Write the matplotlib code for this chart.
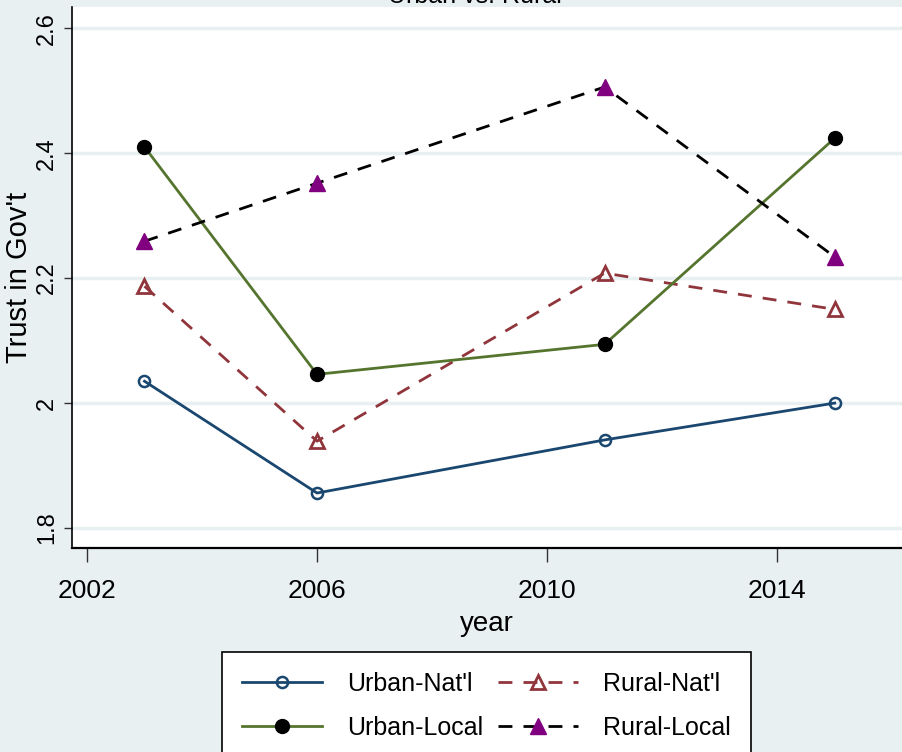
import numpy as np
import matplotlib
matplotlib.use('Agg')
import matplotlib.pyplot as plt

plt.rcParams['font.family'] = ['Liberation Sans', 'DejaVu Sans']

# survey waves and mean trust scores
years        = [2003, 2006, 2011, 2015]
urban_natl   = [2.035, 1.856, 1.941, 2.000]
rural_natl   = [2.187, 1.939, 2.208, 2.150]
urban_local  = [2.410, 2.046, 2.094, 2.424]
rural_local  = [2.259, 2.352, 2.506, 2.234]
xticks       = [2002, 2006, 2010, 2014]
yticks       = [1.8, 2.0, 2.2, 2.4, 2.6]
ytick_labels = ['1.8', '2', '2.2', '2.4', '2.6']

bg = '#e9f0f2'
fig = plt.figure(figsize=(9.02, 7.52), dpi=100, facecolor=bg)
ax = fig.add_axes([72/902, 1 - 548/752, 1 - 72/902, (548 - 7)/752])
ax.set_facecolor('white')

l1, = ax.plot(years, urban_natl, color='#1a476f', lw=2, marker='o', ms=8,
              mfc='none', mec='#1a476f', mew=1.8, label="Urban-Nat'l")
l2, = ax.plot(years, rural_natl, color='#90353b', lw=2, ls=(0, (5, 4)), marker='^', ms=10,
              mfc='none', mec='#90353b', mew=2, label="Rural-Nat'l")
l3, = ax.plot(years, urban_local, color='#55752f', lw=2, marker='o', ms=10,
              mfc='black', mec='black', label='Urban-Local')
l4, = ax.plot(years, rural_local, color='black', lw=2, ls=(0, (5, 4)), marker='^', ms=11,
              mfc='#800080', mec='#800080', label='Rural-Local')

ax.set_xlim(2001.74, 2016.17)
ax.set_ylim(1.768, 2.634)
ax.set_xticks(xticks)
ax.set_xticklabels([str(x) for x in xticks], fontsize=19)
ax.set_yticks(yticks)
ax.set_yticklabels(ytick_labels, fontsize=17, rotation=90, va='center')
ax.yaxis.grid(True, color=bg, lw=2.5)
ax.set_axisbelow(True)
ax.tick_params(axis='x', length=10, width=1, color='#333333', pad=12)
ax.tick_params(axis='y', length=6, width=1, color='#333333', pad=4)
for s in ['top', 'right']:
    ax.spines[s].set_visible(False)
ax.spines['left'].set_linewidth(1.2)
ax.spines['bottom'].set_linewidth(1.6)

ax.set_xlabel('year', fontsize=20, labelpad=6)
ax.set_ylabel("Trust in Gov't", fontsize=21, labelpad=2)

fig.text(475/902, 1.005, 'Urban vs. Rural', ha='center', va='center', fontsize=18)

# row order: Urban-Nat'l, Rural-Nat'l / Urban-Local, Rural-Local
leg = fig.legend([l1, l3, l2, l4], [l.get_label() for l in (l1, l3, l2, l4)],
                 loc='upper left', bbox_to_anchor=(222/902, 1 - 652/752), borderaxespad=0,
                 ncol=2, fontsize=18, handlelength=3.2, columnspacing=0.6, handletextpad=1.0,
                 labelspacing=0.8, borderpad=0.8, fancybox=False, edgecolor='black',
                 framealpha=1)
leg.get_frame().set_linewidth(1.2)

fig.savefig('out.png', dpi=100, facecolor=bg)
